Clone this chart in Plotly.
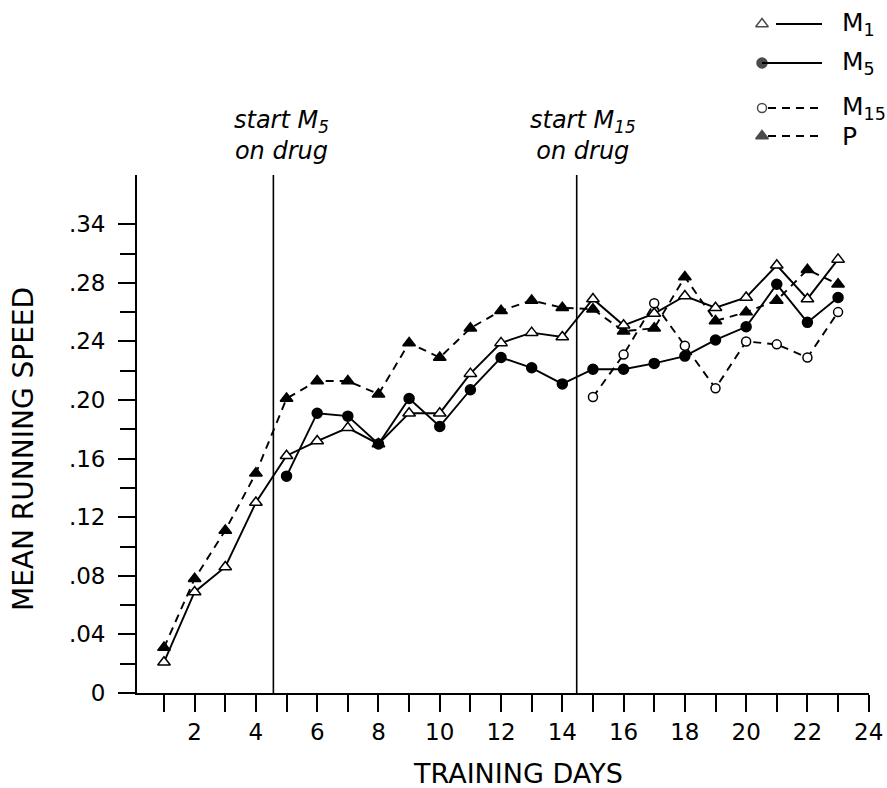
import plotly.graph_objects as go

# ---------------- data ----------------
days = list(range(1, 24))
m1 = [0.021, 0.069, 0.086, 0.130, 0.162, 0.172, 0.181, 0.170, 0.191, 0.191,
      0.218, 0.239, 0.246, 0.243, 0.269, 0.251, 0.259, 0.271, 0.263, 0.270,
      0.292, 0.269, 0.296]
m5_days = list(range(5, 24))
m5 = [0.148, 0.191, 0.189, 0.170, 0.201, 0.182, 0.207, 0.229, 0.222, 0.211,
      0.221, 0.221, 0.225, 0.230, 0.241, 0.250, 0.279, 0.253, 0.270]
m15_days = list(range(15, 24))
m15 = [0.202, 0.231, 0.266, 0.237, 0.208, 0.240, 0.238, 0.229, 0.260]
p = [0.031, 0.078, 0.111, 0.150, 0.201, 0.213, 0.213, 0.204, 0.239, 0.229,
     0.249, 0.261, 0.268, 0.263, 0.262, 0.247, 0.249, 0.284, 0.254, 0.260,
     0.268, 0.289, 0.279]

drug_starts = [4.57, 14.47]
drug_labels = ["<i>start M<sub>5</sub></i><br><i>on drug</i>",
               "<i>start M<sub>15</sub></i><br><i>on drug</i>"]

x_tickvals = list(range(2, 25, 2))
x_ticktext = [str(d) for d in x_tickvals]
x_minor_ticks = list(range(1, 25))
y_tickvals = [0, 0.04, 0.08, 0.12, 0.16, 0.20, 0.24, 0.28, 0.32]
y_ticktext = ["0", ".04", ".08", ".12", ".16", ".20", ".24", ".28", ".34"]
y_minor_ticks = [0.02, 0.06, 0.10, 0.14, 0.18, 0.22, 0.26, 0.30]

series_names = ["M<sub>1</sub>", "M<sub>5</sub>", "M<sub>15</sub>", "P"]

# ---------------- figure ----------------
W, H = 887, 788
FONT = "DejaVu Sans"
BLACK = "black"

fig = go.Figure()

styles = [
    dict(symbol="triangle-up", color="white", size=11, dash="solid", gap=14),
    dict(symbol="circle", color=BLACK, size=10, dash="solid", gap=0),
    dict(symbol="circle", color="white", size=9, dash="8px,6px", gap=6),
    dict(symbol="triangle-up", color=BLACK, size=11, dash="8px,6px", gap=6),
]
series = [(days, m1), (m5_days, m5), (m15_days, m15), (days, p)]
order = [3, 2, 0, 1]
for i in order:
    xs, ys = series[i]
    st = styles[i]
    fig.add_trace(go.Scatter(
        x=xs, y=ys, mode="lines+markers", showlegend=False,
        line=dict(color=BLACK, width=1.9, dash=st["dash"]),
        marker=dict(symbol=st["symbol"], size=st["size"], color=st["color"],
                    line=dict(color=BLACK, width=1.5)),
        xaxis="x", yaxis="y", name=series_names[i]))

# custom legend (marker at left end of the line sample)
leg_rows = [24, 63, 108, 136]
leg_x0, leg_x1, leg_tx = 762, 822, 840
for i in range(4):
    st = styles[i]
    r = leg_rows[i]
    fig.add_trace(go.Scatter(
        x=[leg_x0, None, leg_x0 + st["gap"], leg_x1], y=[r, None, r, r],
        mode="lines+markers", showlegend=False, hoverinfo="skip",
        line=dict(color=BLACK, width=1.9, dash=st["dash"]),
        marker=dict(symbol=st["symbol"], size=[st["size"], 0, 0, 0],
                    color=st["color"], line=dict(color=BLACK, width=1.5)),
        xaxis="x2", yaxis="y2"))
    fig.add_annotation(x=leg_tx, y=r, xref="x2", yref="y2",
                       text=series_names[i], showarrow=False,
                       xanchor="left", yanchor="middle",
                       font=dict(family=FONT, size=25, color=BLACK))

# drug start lines
for xs in drug_starts:
    fig.add_shape(type="line", x0=xs, x1=xs, y0=0, y1=1, xref="x", yref="y domain",
                  line=dict(color=BLACK, width=1.6))
for xs, lab, sh in zip(drug_starts, drug_labels, [8, 6]):
    fig.add_annotation(x=xs, y=(H - 136) / H, xref="x", yref="paper",
                       xshift=sh, text=lab, showarrow=False,
                       xanchor="center", yanchor="middle", align="center",
                       font=dict(family=FONT, size=24, color=BLACK))

# axis titles
fig.add_annotation(x=24 / W, y=(H - 449) / H, xref="paper", yref="paper",
                   text="MEAN RUNNING SPEED", textangle=-90, showarrow=False,
                   xanchor="center", yanchor="middle",
                   font=dict(family=FONT, size=28, color=BLACK))
fig.add_annotation(x=518 / W, y=(H - 773) / H, xref="paper", yref="paper",
                   text="TRAINING DAYS", showarrow=False,
                   xanchor="center", yanchor="middle",
                   font=dict(family=FONT, size=27, color=BLACK))

px_left, px_right = 137, 868.7
py_top, py_bottom = 175, 693

fig.update_layout(
    width=W, height=H,
    margin=dict(l=0, r=0, t=0, b=0),
    paper_bgcolor="white", plot_bgcolor="white",
    font=dict(family=FONT, size=23, color=BLACK),
    xaxis=dict(domain=[px_left / W, px_right / W], range=[0.119, 24],
               showgrid=False, zeroline=False, showline=True,
               linecolor=BLACK, linewidth=1.8,
               ticks="outside", ticklen=17, tickwidth=1.8, tickcolor=BLACK,
               tickvals=x_tickvals, ticktext=x_ticktext,
               minor=dict(ticks="outside", ticklen=17, tickwidth=1.8,
                          tickcolor=BLACK, tickvals=x_minor_ticks, showgrid=False),
               tickfont=dict(family=FONT, size=23, color=BLACK),
               automargin=False, fixedrange=True),
    yaxis=dict(domain=[(H - py_bottom) / H, (H - py_top) / H], range=[0, 0.3536],
               showgrid=False, zeroline=False, showline=True,
               linecolor=BLACK, linewidth=1.8,
               ticks="outside", ticklen=17, tickwidth=1.8, tickcolor=BLACK,
               tickvals=y_tickvals, ticktext=y_ticktext,
               minor=dict(ticks="outside", ticklen=15, tickwidth=1.8,
                          tickcolor=BLACK, tickvals=y_minor_ticks, showgrid=False),
               ticklabelstandoff=8,
               tickfont=dict(family=FONT, size=23, color=BLACK),
               automargin=False, fixedrange=True),
    xaxis2=dict(domain=[740 / W, 880 / W], range=[740, 880], visible=False,
                anchor="y2", fixedrange=True),
    yaxis2=dict(domain=[(H - 160) / H, (H - 0) / H], range=[160, 0], visible=False,
                anchor="x2", fixedrange=True),
    showlegend=False,
)

fig.write_html("out.html",
               config={"displayModeBar": False},
               post_script="document.body.style.margin='0';"
                           "document.body.style.overflow='hidden';")
